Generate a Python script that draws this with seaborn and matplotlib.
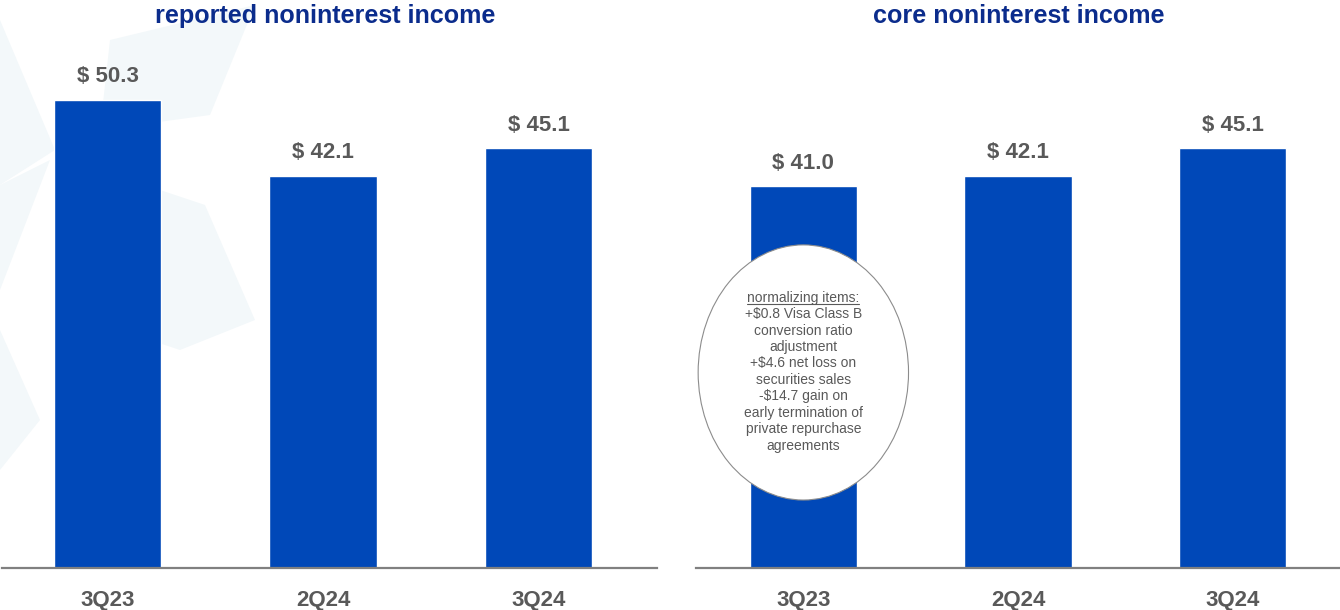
import numpy as np
import pandas as pd
import seaborn as sns
import matplotlib.pyplot as plt
from matplotlib.patches import Ellipse, Polygon

# data ($ millions)
quarters = ["3Q23", "2Q24", "3Q24"]
reported = [50.3, 42.1, 45.1]
core = [41.0, 42.1, 45.1]
titles = ["reported noninterest income", "core noninterest income"]
note_head = "normalizing items:"
note_body = ("+$0.8 Visa Class B\nconversion ratio\nadjustment\n+$4.6 net loss on\n"
             "securities sales\n-$14.7 gain on\nearly termination of\nprivate repurchase\nagreements")

BAR = "#0048B8"
NAVY = "#0B2C8C"
GREY = "#595959"

sns.set_theme(style="white")
plt.rcParams["font.family"] = ["Liberation Sans", "DejaVu Sans"]

fig = plt.figure(figsize=(13.4, 6.1), dpi=100)

# faint background shapes on the left (decoration only)
bg_shapes = [
    [(0, 20), (55, 150), (0, 185)],
    [(110, 40), (255, 5), (210, 115), (100, 130)],
    [(0, 185), (50, 160), (0, 290)],
    [(160, 190), (205, 205), (255, 320), (180, 350), (120, 330)],
    [(0, 330), (40, 420), (0, 470)],
]
for pts in bg_shapes:
    xy = [(x / 1340, 1 - y / 610) for x, y in pts]
    fig.patches.append(Polygon(xy, closed=True, transform=fig.transFigure,
                               facecolor="#F3F8FA", edgecolor="none", zorder=-5))

ax1 = fig.add_axes([2 / 1340, 42 / 610, 655 / 1340, 568 / 610])
ax2 = fig.add_axes([696 / 1340, 42 / 610, 644 / 1340, 568 / 610])

for ax, vals, xlim in [(ax1, reported, (-0.49, 2.55)), (ax2, core, (-0.5, 2.5))]:
    df = pd.DataFrame({"quarter": quarters, "value": vals})
    sns.barplot(data=df, x="quarter", y="value", ax=ax, color=BAR,
                saturation=1, width=0.5)
    ax.set_facecolor("none")
    ax.set_xlim(*xlim)
    ax.set_ylim(0, 61.0)
    ax.set_xlabel("")
    ax.set_ylabel("")
    ax.set_yticks([])
    for s in ["top", "left", "right"]:
        ax.spines[s].set_visible(False)
    ax.spines["bottom"].set_color("#808080")
    ax.spines["bottom"].set_linewidth(1.6)
    ax.tick_params(axis="x", length=0, pad=16)
    for lbl in ax.get_xticklabels():
        lbl.set_fontsize(16)
        lbl.set_fontweight("bold")
        lbl.set_color(GREY)
    ax.bar_label(ax.containers[0], labels=[f"$ {v:.1f}" for v in vals],
                 padding=9, fontsize=16, fontweight="bold", color=GREY)

fig.text(325 / 1340, 1 - 16 / 610, titles[0], ha="center", va="center",
         fontsize=18.1, fontweight="bold", color=NAVY)
fig.text(1019 / 1340, 1 - 16 / 610, titles[1], ha="center", va="center",
         fontsize=18.1, fontweight="bold", color=NAVY)

# callout ellipse over the 3Q23 core bar
ax2.add_patch(Ellipse((0, 21.0), 0.98, 27.4, facecolor="white",
                      edgecolor="#8C8C8C", linewidth=0.8, zorder=5))
head = ax2.text(0, 29.0, note_head, ha="center", va="center", fontsize=10,
                color=GREY, zorder=6)
ax2.text(0, 20.2, note_body, ha="center", va="center", fontsize=10,
         color=GREY, linespacing=1.22, zorder=6)

# underline the heading
fig.canvas.draw()
bb = head.get_window_extent().transformed(ax2.transData.inverted())
ax2.plot([bb.x0, bb.x1], [bb.y0 + 0.15, bb.y0 + 0.15], color=GREY,
         linewidth=0.8, zorder=6)

fig.savefig("out.png", dpi=100)
